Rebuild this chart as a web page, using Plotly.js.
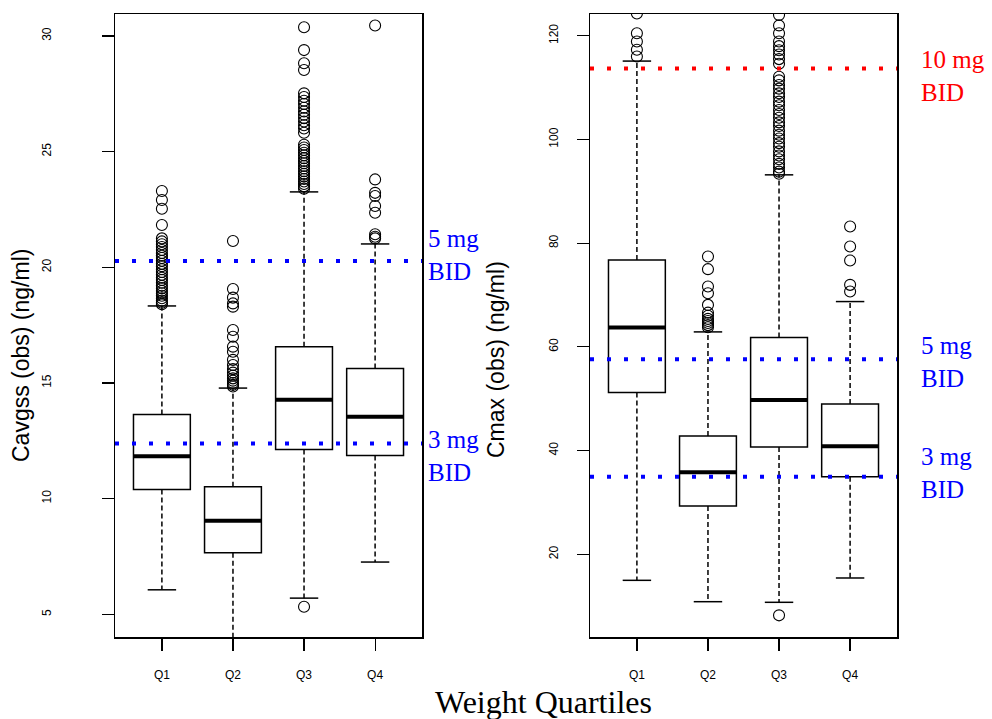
<!DOCTYPE html>
<html>
<head>
<meta charset="utf-8">
<script src="https://cdn.plot.ly/plotly-3.0.1.min.js"></script>
<style>
html,body{margin:0;padding:0;background:#fff;}
#chart{width:992px;height:719px;}
</style>
</head>
<body>
<div id="chart"></div>
<script>
// ---------- data ----------
const categories = ['Q1', 'Q2', 'Q3', 'Q4'];
const positions = [1, 2, 3, 4];

// Left panel: Cavgss (obs) (ng/ml)
const cavLowerWhisker = [6.06, 3.3, 5.70, 7.26];
const cavQ1 = [10.40, 7.66, 12.13, 11.87];
const cavMedian = [11.83, 9.05, 14.28, 13.54];
const cavQ3 = [13.64, 10.51, 16.57, 15.63];
const cavUpperWhisker = [18.33, 14.78, 23.26, 21.01];
const cavOutliersQ1 = [23.30, 22.91, 22.53, 21.83, 21.25, 21.12, 21.0, 20.88, 20.75, 20.62, 20.5, 20.4, 20.28, 20.15, 20.05, 19.92, 19.8, 19.68, 19.55, 19.45, 19.33, 19.2, 19.1, 18.98, 18.88, 18.77, 18.66, 18.56, 18.47, 18.4];
const cavOutliersQ2 = [21.14, 19.06, 18.69, 18.44, 18.3, 17.29, 17.0, 16.57, 16.35, 16.0, 15.78, 15.6, 15.45, 15.32, 15.2, 15.1, 15.0, 14.92, 14.85];
const cavOutliersQ3 = [30.38, 29.39, 28.82, 28.53, 27.52, 27.36, 27.2, 27.06, 26.9, 26.74, 26.6, 26.45, 26.3, 26.14, 26.0, 25.82, 25.3, 25.18, 25.07, 24.95, 24.84, 24.72, 24.6, 24.5, 24.38, 24.27, 24.15, 24.04, 23.93, 23.82, 23.71, 23.6, 23.5, 23.4, 5.33];
const cavOutliersQ4 = [30.45, 23.80, 23.22, 23.08, 22.65, 22.36, 21.43, 21.32, 21.25];
const cavRefValues = [20.27, 12.38];
const cavRefLabels = ['5 mg<br>BID', '3 mg<br>BID'];
const cavRefColors = ['#0000FF', '#0000FF'];

// Right panel: Cmax (obs) (ng/ml)
const cmaxLowerWhisker = [14.98, 10.86, 10.74, 15.43];
const cmaxQ1 = [51.18, 29.32, 40.70, 34.97];
const cmaxMedian = [63.72, 35.82, 49.77, 40.83];
const cmaxQ3 = [76.78, 42.82, 61.79, 49.0];
const cmaxUpperWhisker = [115.12, 62.89, 93.18, 68.74];
const cmaxOutliersQ1 = [124.3, 120.5, 118.9, 117.3, 116.0];
const cmaxOutliersQ2 = [77.42, 74.99, 71.64, 70.35, 68.10, 66.6, 66.0, 65.4, 65.0, 64.6, 64.2, 63.8];
const cmaxOutliersQ3 = [124.0, 122.0, 120.5, 118.9, 118.0, 117.2, 116.4, 115.5, 114.6, 112.1, 111.4, 110.5, 109.8, 108.9, 108.2, 107.3, 106.6, 105.7, 104.9, 104.2, 103.3, 102.6, 101.7, 100.9, 100.2, 99.3, 98.6, 97.7, 96.9, 96.2, 95.3, 94.6, 93.8, 93.4, 8.23];
const cmaxOutliersQ4 = [83.21, 79.35, 76.65, 71.96, 70.67];
const cmaxRefValues = [113.7, 57.6, 34.97];
const cmaxRefLabels = ['10 mg<br>BID', '5 mg<br>BID', '3 mg<br>BID'];
const cmaxRefColors = ['#FF0000', '#0000FF', '#0000FF'];

const xLabel = 'Weight Quartiles';
const cavTitle = 'Cavgss (obs) (ng/ml)';
const cmaxTitle = 'Cmax (obs) (ng/ml)';

// ---------- layout constants (pixels) ----------
const W = 992, H = 719;
const px = v => v / W, py = v => 1 - v / H;
const cavLabelCenters = [255, 456];      // vertical centres of the dose label blocks
const cmaxLabelCenters = [76, 362, 473];

// ---------- build ----------
const XR = [0.34, 4.66];
const BOXW = 0.8, CAPW = 0.4;

function panelTraces(xa, ya, lo, q1, med, q3, hi, outs, refs, refColors) {
  const t = [];
  t.push({
    type: 'box', xaxis: xa, yaxis: ya, x: positions,
    q1: q1, median: med, q3: q3, lowerfence: q1, upperfence: q3,
    width: BOXW, boxpoints: false, hoverinfo: 'skip',
    fillcolor: 'rgba(0,0,0,0)', line: {color: '#000', width: 1.5}, showlegend: false
  });
  const wx = [], wy = [];
  positions.forEach((p, i) => {
    wx.push(p, p, null, p, p, null);
    wy.push(q3[i], hi[i], null, q1[i], lo[i], null);
  });
  t.push({type: 'scatter', mode: 'lines', xaxis: xa, yaxis: ya, x: wx, y: wy,
    line: {color: '#000', width: 1.5, dash: '5px,3px'}, hoverinfo: 'skip', showlegend: false});
  const cx = [], cy = [];
  positions.forEach((p, i) => {
    cx.push(p - CAPW / 2, p + CAPW / 2, null, p - CAPW / 2, p + CAPW / 2, null);
    cy.push(hi[i], hi[i], null, lo[i], lo[i], null);
  });
  t.push({type: 'scatter', mode: 'lines', xaxis: xa, yaxis: ya, x: cx, y: cy,
    line: {color: '#000', width: 1.5}, hoverinfo: 'skip', showlegend: false});
  const mx = [], my = [];
  positions.forEach((p, i) => {
    mx.push(p - BOXW / 2, p + BOXW / 2, null);
    my.push(med[i], med[i], null);
  });
  t.push({type: 'scatter', mode: 'lines', xaxis: xa, yaxis: ya, x: mx, y: my,
    line: {color: '#000', width: 4}, hoverinfo: 'skip', showlegend: false});
  const ox = [], oy = [];
  outs.forEach((arr, i) => arr.forEach(v => { ox.push(positions[i]); oy.push(v); }));
  t.push({type: 'scatter', mode: 'markers', xaxis: xa, yaxis: ya, x: ox, y: oy,
    marker: {symbol: 'circle-open', size: 11, color: '#000', line: {width: 1.1, color: '#000'}},
    hoverinfo: 'y', showlegend: false});
  refs.forEach((r, i) => {
    t.push({type: 'scatter', mode: 'lines', xaxis: xa, yaxis: ya, x: XR, y: [r, r],
      line: {color: refColors[i], width: 4, dash: '4px,13px'}, hoverinfo: 'skip', showlegend: false});
  });
  return t;
}

const cavOuts = [cavOutliersQ1, cavOutliersQ2, cavOutliersQ3, cavOutliersQ4];
const cmaxOuts = [cmaxOutliersQ1, cmaxOutliersQ2, cmaxOutliersQ3, cmaxOutliersQ4];

const traces = [].concat(
  panelTraces('x', 'y', cavLowerWhisker, cavQ1, cavMedian, cavQ3, cavUpperWhisker, cavOuts, cavRefValues, cavRefColors),
  panelTraces('x2', 'y2', cmaxLowerWhisker, cmaxQ1, cmaxMedian, cmaxQ3, cmaxUpperWhisker, cmaxOuts, cmaxRefValues, cmaxRefColors)
);

const sans = 'Liberation Sans, Arial, sans-serif';
const serif = 'Liberation Serif, Times New Roman, serif';
const tickFont = {family: sans, size: 12, color: '#000'};

function xaxisDef(domain, anchor) {
  return {domain: domain, range: XR, tickvals: positions, ticktext: categories, anchor: anchor,
    ticks: 'outside', ticklen: 12, tickwidth: 1.2, tickcolor: '#000',
    showline: true, mirror: true, linecolor: '#000', linewidth: 1.5,
    showgrid: false, zeroline: false, tickfont: tickFont, ticklabelstandoff: 14, fixedrange: true};
}
function yaxisDef(range, tv, anchor, standoff) {
  return {domain: [py(637), py(14)], range: range, tickvals: tv, ticktext: tv.map(String), anchor: anchor,
    ticks: 'outside', ticklen: 12, tickwidth: 1.2, tickcolor: '#000', tickangle: -90,
    showline: true, mirror: true, linecolor: '#000', linewidth: 1.5,
    showgrid: false, zeroline: false, tickfont: tickFont, ticklabelstandoff: standoff, fixedrange: true};
}

const annotations = [];
function refLabels(labels, colors, xpx, centers) {
  labels.forEach((lab, i) => {
    annotations.push({xref: 'paper', yref: 'paper', x: px(xpx), y: py(centers[i]), text: lab,
      xanchor: 'left', yanchor: 'middle', align: 'left', showarrow: false,
      font: {family: serif, size: 25, color: colors[i]}});
  });
}
refLabels(cavRefLabels, cavRefColors, 426, cavLabelCenters);
refLabels(cmaxRefLabels, cmaxRefColors, 919, cmaxLabelCenters);

annotations.push({xref: 'paper', yref: 'paper', x: px(21), y: py(356), text: cavTitle, textangle: -90,
  showarrow: false, xanchor: 'center', yanchor: 'middle', font: {family: sans, size: 23, color: '#000'}});
annotations.push({xref: 'paper', yref: 'paper', x: px(496), y: py(360), text: cmaxTitle, textangle: -90,
  showarrow: false, xanchor: 'center', yanchor: 'middle', font: {family: sans, size: 23, color: '#000'}});
annotations.push({xref: 'paper', yref: 'paper', x: px(543), y: py(702), text: xLabel,
  showarrow: false, xanchor: 'center', yanchor: 'middle', font: {family: serif, size: 32, color: '#000'}});

const layout = {
  width: W, height: H, margin: {l: 0, r: 0, t: 0, b: 0},
  paper_bgcolor: '#fff', plot_bgcolor: '#fff', showlegend: false,
  xaxis: xaxisDef([px(115), px(422)], 'y'),
  yaxis: yaxisDef([4.02, 30.95], [5, 10, 15, 20, 25, 30], 'x', 46),
  xaxis2: xaxisDef([px(590), px(897)], 'y2'),
  yaxis2: yaxisDef([4.05, 124.2], [20, 40, 60, 80, 100, 120], 'x2', 14),
  annotations: annotations
};

Plotly.newPlot('chart', traces, layout, {staticPlot: true});
</script>
</body>
</html>
